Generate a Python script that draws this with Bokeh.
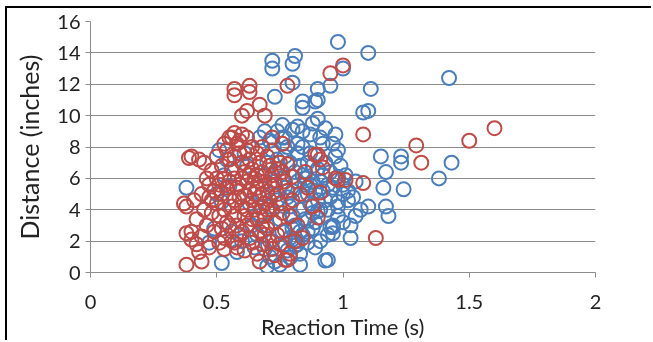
from bokeh.plotting import figure
from bokeh.models import ColumnDataSource, Legend, LegendItem, FixedTicker, Range1d
from bokeh.embed import file_html
from bokeh.resources import INLINE

# ---- data: series "0.2" (blue) ----
blue_x = [0.98, 1.10, 1.42, 1.11, 1.08, 1.10, 0.97,
          1.15, 1.23, 1.23, 1.17, 1.38, 1.43,
          1.24, 1.16, 1.17, 1.18, 1.07, 1.10,
          1.03, 1.03, 0.96, 0.96, 0.93,
          0.72, 0.72, 0.81, 0.80,
          1.00, 0.90, 0.84, 0.84, 0.89, 0.80, 0.95, 0.73, 0.90,
          0.76, 0.80, 0.82, 0.84, 0.88, 0.91, 0.92, 0.69, 0.67, 0.51, 0.77, 0.82, 0.84,
          1.02, 0.98, 0.95, 0.94, 0.83, 0.70, 0.52, 0.38, 0.98, 1.00,
          0.72, 0.74, 0.75, 0.76, 0.77, 0.78, 0.79, 0.80, 0.81, 0.82, 0.83, 0.84, 0.85, 0.86,
          0.87, 0.88, 0.89, 0.90, 0.91, 0.92, 0.93, 0.94, 0.95, 0.96, 0.73, 0.74, 0.75, 0.76,
          0.77, 0.78, 0.79, 0.80, 0.81, 0.82, 0.83, 0.84, 0.85, 0.86, 0.87, 0.88, 0.89, 0.90,
          0.91, 0.92, 0.93, 0.94, 0.83, 0.84, 0.85, 0.86, 0.87, 0.88, 0.80, 0.81, 0.82, 0.79,
          0.78, 0.77, 0.76, 0.74, 0.71, 0.70, 0.69, 0.68, 0.67, 0.66, 0.65, 0.64, 0.63, 0.62,
          0.61, 0.60, 0.58, 0.56, 0.55, 0.54, 0.53, 0.52, 0.50, 0.49, 0.47, 0.72, 0.71, 0.73,
          0.75, 0.69, 0.70, 0.71, 0.72, 0.73, 0.99, 1.00, 1.01, 1.02, 1.04, 1.05, 0.97, 0.98,
          0.96, 0.93, 0.90, 0.87, 1.05, 1.00, 0.98, 0.94, 0.91, 0.89, 0.88,
          0.95, 0.98, 0.96, 0.79, 0.80, 0.82, 0.86, 0.83, 0.86, 0.90]
blue_y = [14.7, 14.0, 12.4, 11.7, 10.2, 10.3, 8.8,
          7.4, 7.0, 7.4, 6.4, 6.0, 7.0,
          5.3, 5.4, 4.2, 3.6, 4.0, 4.2,
          3.0, 2.2, 2.9, 2.5, 0.76,
          13.5, 13.0, 13.8, 13.3,
          13.0, 11.7, 10.9, 10.5, 10.9, 12.1, 11.9, 11.2, 11.0,
          9.4, 9.1, 9.3, 9.0, 9.5, 8.6, 8.2, 9.0, 8.6, 7.8, 8.6, 8.2, 8.0,
          4.6, 4.2, 2.9, 0.8, 0.5, 0.4, 0.6, 5.4, 6.1, 5.0,
          7.8, 7.2, 6.6, 6.0, 5.4, 4.8, 4.2, 3.6, 3.0, 7.6, 6.8, 6.2, 5.6, 5.0,
          4.4, 3.8, 3.2, 6.6, 5.8, 5.2, 4.6, 4.0, 6.4, 5.4, 5.8, 4.6, 3.4, 2.6,
          1.8, 1.4, 2.2, 2.8, 1.7, 2.0, 1.2, 2.4, 3.4, 2.6, 5.6, 6.8, 5.2, 4.6,
          4.0, 6.2, 7.0, 5.6, 4.0, 4.9, 6.0, 7.0, 7.6, 5.8, 5.2, 6.4, 5.8, 7.0,
          8.0, 7.4, 8.6, 9.0, 8.4, 7.0, 6.2, 5.0, 3.6, 2.4, 1.6, 3.0, 4.4, 6.8,
          7.6, 2.0, 1.3, 2.6, 5.5, 7.2, 6.2, 4.5, 5.0, 2.8, 1.9, 2.0, 1.0, 0.7,
          0.5, 1.5, 3.0, 4.2, 5.0, 6.4, 6.8, 5.6, 6.2, 5.2, 4.8, 5.8, 7.4, 7.8,
          8.2, 9.2, 9.8, 8.8, 3.6, 3.2, 3.6, 2.4, 2.0, 1.6, 2.8,
          4.8, 4.5, 3.0, 0.95, 2.1, 1.8, 3.3, 2.6, 1.9, 3.9]

# ---- data: series "0.6" (red) ----
red_x = [1.60, 1.50, 1.29, 1.31, 1.08, 1.08, 1.13, 0.95, 1.00, 0.78, 0.57, 0.57, 0.63, 0.63,
         0.67, 0.62, 0.60, 0.69, 0.55, 0.57, 0.59, 0.62, 0.72, 0.90, 0.40, 0.43, 0.45, 0.39,
         0.37, 0.38, 0.38, 0.40, 0.38, 0.44, 0.98, 1.01, 0.91, 0.90, 0.78, 0.73, 0.67, 0.57,
         0.53, 0.89, 0.91, 0.97, 0.92, 0.78, 0.80, 0.76, 0.80, 0.77, 0.77, 0.88, 0.40, 0.42,
         0.44, 0.46, 0.42, 0.45, 0.41, 0.44, 0.47, 0.43, 0.47,
         0.48, 0.49, 0.50, 0.51, 0.52, 0.53, 0.50, 0.52, 0.53, 0.54, 0.55, 0.56, 0.57, 0.58,
         0.59, 0.54, 0.55, 0.56, 0.57, 0.58, 0.59, 0.60, 0.61, 0.62, 0.63, 0.58, 0.59, 0.60,
         0.61, 0.62, 0.63, 0.64, 0.65, 0.66, 0.67, 0.68, 0.62, 0.63, 0.64, 0.65, 0.66, 0.67,
         0.68, 0.69, 0.70, 0.71, 0.66, 0.67, 0.68, 0.69, 0.70, 0.71, 0.72, 0.73, 0.74, 0.70,
         0.71, 0.72, 0.73, 0.74, 0.75, 0.76, 0.75, 0.76, 0.77, 0.78, 0.79, 0.82, 0.84, 0.85,
         0.86, 0.83, 0.46, 0.47, 0.48, 0.49, 0.51, 0.53, 0.56, 0.60, 0.64, 0.68, 0.52, 0.54,
         0.56, 0.58, 0.60, 0.61, 0.64, 0.66, 0.69, 0.72, 0.75, 0.79, 0.81, 0.50, 0.55, 0.57,
         0.59, 0.61, 0.63, 0.65, 0.67, 0.69, 0.71, 0.74, 0.48, 0.51, 0.53, 0.55, 0.57, 0.60,
         0.62, 0.64, 0.66, 0.68, 0.70]
red_y = [9.2, 8.4, 8.1, 7.0, 8.8, 5.7, 2.2, 12.7, 13.2, 11.9, 11.7, 11.3, 11.9, 11.5,
         10.7, 10.3, 10.0, 10.0, 8.6, 8.9, 8.4, 8.6, 8.6, 7.5, 7.4, 7.2, 7.0, 7.3,
         4.4, 4.2, 2.5, 2.1, 0.5, 0.7, 5.9, 5.9, 5.1, 3.5, 0.8, 1.1, 0.7, 1.9,
         1.5, 7.5, 7.2, 6.0, 6.7, 6.9, 6.1, 8.2, 4.6, 2.7, 0.8, 4.2, 2.6, 1.8,
         2.3, 3.0, 3.4, 4.0, 4.6, 5.0, 5.6, 1.3, 1.6,
         6.5, 5.2, 4.4, 3.6, 2.8, 2.2, 7.4, 6.8, 6.0, 5.4, 4.8, 4.2, 3.6, 3.0,
         2.4, 7.8, 7.2, 6.6, 6.0, 5.4, 4.8, 4.2, 3.6, 3.0, 2.2, 8.2, 7.6, 7.0,
         6.4, 5.8, 5.2, 4.6, 4.0, 3.4, 2.6, 1.8, 7.8, 7.2, 6.6, 6.0, 5.4, 4.8,
         4.2, 3.6, 2.8, 2.0, 7.6, 7.0, 6.4, 5.8, 5.2, 4.6, 4.0, 3.2, 2.4, 7.4,
         6.8, 6.2, 5.6, 5.0, 4.4, 3.8, 7.0, 6.4, 5.8, 5.2, 3.6, 3.0, 2.2, 6.4,
         5.4, 5.0, 6.0, 4.8, 3.8, 2.6, 1.9, 8.2, 8.6, 8.8, 8.0, 8.0, 5.0, 3.2,
         2.0, 1.6, 2.6, 1.4, 1.9, 1.2, 2.4, 1.5, 1.8, 1.2, 2.0, 6.0, 5.8, 4.6,
         5.6, 4.9, 6.2, 5.0, 5.8, 4.4, 5.6, 6.6, 4.6, 5.6, 4.0, 3.0, 7.4, 6.0,
         4.0, 3.4, 6.2, 3.0, 4.0]

series_names = ["0.2", "0.6"]
x_ticks = [0, 0.5, 1, 1.5, 2]
y_ticks = [0, 2, 4, 6, 8, 10, 12, 14, 16]

BLUE = "#4a7ebb"
RED = "#be4b48"
GRID = "#8c8c8c"
TEXT = "#222222"
FONT = "Lato"

p = figure(width=646, height=334, output_backend="svg", toolbar_location=None,
           x_range=Range1d(0, 2), y_range=Range1d(0, 16),
           min_border_left=83, min_border_top=13, min_border_right=58, min_border_bottom=69,
           styles={"position": "fixed", "left": "5px", "top": "6px",
                   "border-top": "2px solid black", "border-left": "2px solid black"})
p.outline_line_color = None
p.background_fill_color = "white"

src_b = ColumnDataSource(dict(x=blue_x, y=blue_y))
src_r = ColumnDataSource(dict(x=red_x, y=red_y))
rb = p.scatter("x", "y", source=src_b, size=14, fill_color=None, line_color=BLUE, line_width=2)
rr = p.scatter("x", "y", source=src_r, size=14, fill_color=None, line_color=RED, line_width=2)

# axes
p.xaxis.ticker = FixedTicker(ticks=x_ticks)
p.yaxis.ticker = FixedTicker(ticks=y_ticks)
p.xaxis.major_label_overrides = {0: "0", 0.5: "0.5", 1: "1", 1.5: "1.5", 2: "2"}
for ax in (p.xaxis[0], p.yaxis[0]):
    ax.axis_line_color = GRID
    ax.major_tick_line_color = GRID
    ax.minor_tick_line_color = None
    ax.major_tick_in = 0
    ax.major_tick_out = 5
    ax.major_label_text_font = FONT
    ax.major_label_text_font_size = "20px"
    ax.major_label_text_color = TEXT
    ax.axis_label_text_font = FONT
    ax.axis_label_text_font_style = "normal"
    ax.axis_label_text_color = TEXT
p.xaxis.major_label_standoff = 17
p.yaxis.major_label_standoff = 5
p.xaxis.axis_label = "Reaction Time (s)"
p.xaxis.axis_label_text_font_size = "22px"
p.xaxis.axis_label_standoff = 1
p.yaxis.axis_label = "Distance (inches)"
p.yaxis.axis_label_text_font_size = "25px"
p.yaxis.axis_label_standoff = 10

p.xgrid.grid_line_color = None
p.ygrid.grid_line_color = GRID
p.ygrid.grid_line_width = 1

legend = Legend(items=[LegendItem(label=series_names[0], renderers=[rb]),
                       LegendItem(label=series_names[1], renderers=[rr])],
                location=(500, 77), orientation="vertical",
                glyph_width=20, glyph_height=30, label_standoff=1, spacing=11,
                padding=0, margin=0, border_line_color=None, background_fill_alpha=0,
                label_text_font=FONT, label_text_font_size="18px", label_text_color=TEXT)
p.add_layout(legend, "center")

open("out.html", "w").write(file_html(p, INLINE))
